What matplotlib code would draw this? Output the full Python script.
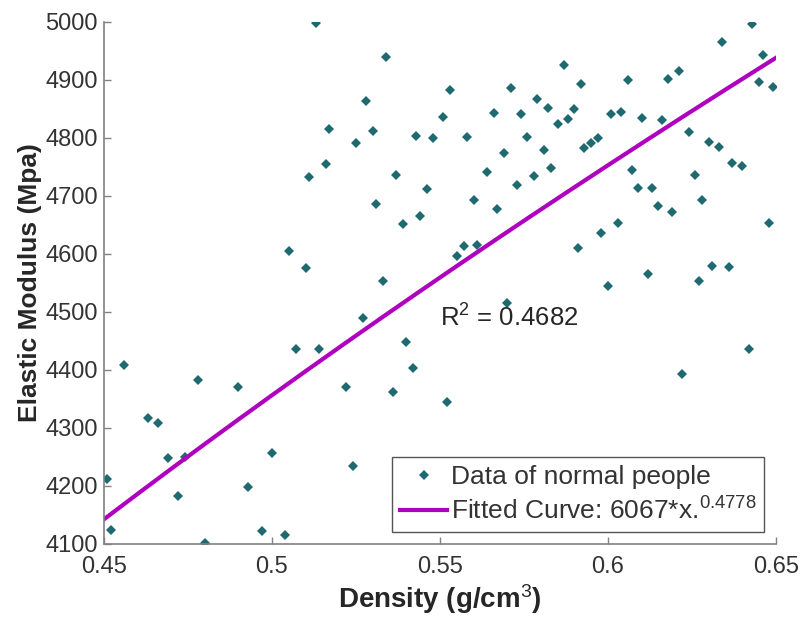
import numpy as np
import matplotlib
matplotlib.use("Agg")
import matplotlib.pyplot as plt

plt.rcParams['font.family'] = ['Liberation Sans', 'DejaVu Sans']
plt.rcParams['mathtext.fontset'] = 'custom'
plt.rcParams['mathtext.rm'] = 'Liberation Sans'
plt.rcParams['mathtext.it'] = 'Liberation Sans'
plt.rcParams['mathtext.bf'] = 'Liberation Sans:bold'

# density (g/cm3) and elastic modulus (Mpa)
density = [
    0.513, 0.534, 0.553, 0.528, 0.551, 0.517, 0.530, 0.525, 0.543, 0.548,
    0.516, 0.511, 0.537, 0.546, 0.531, 0.544, 0.539, 0.505, 0.510, 0.533,
    0.587, 0.592, 0.571, 0.579, 0.582, 0.590, 0.566, 0.574, 0.588, 0.585,
    0.601, 0.558, 0.576, 0.569, 0.581, 0.593, 0.595, 0.597, 0.564, 0.583,
    0.578, 0.573, 0.560, 0.567, 0.603, 0.598, 0.557, 0.561, 0.555, 0.591,
    0.643, 0.634, 0.646, 0.606, 0.618, 0.621, 0.645, 0.649, 0.604, 0.610,
    0.616, 0.624, 0.630, 0.633, 0.637, 0.640, 0.607, 0.626, 0.609, 0.613,
    0.615, 0.619, 0.628, 0.648, 0.612, 0.631, 0.636, 0.627, 0.600, 0.642,
    0.622, 0.570, 0.552, 0.527, 0.507, 0.514, 0.540, 0.542, 0.522, 0.536,
    0.500, 0.524, 0.504, 0.456, 0.478, 0.490, 0.463, 0.466, 0.469, 0.474,
    0.451, 0.493, 0.472, 0.452, 0.497, 0.480,
]
modulus = [
    4999, 4940, 4883, 4864, 4837, 4816, 4812, 4792, 4803, 4800,
    4755, 4732, 4736, 4712, 4686, 4665, 4652, 4606, 4576, 4553,
    4926, 4893, 4886, 4868, 4851, 4850, 4843, 4842, 4833, 4825,
    4842, 4802, 4802, 4775, 4779, 4783, 4791, 4800, 4741, 4749,
    4734, 4719, 4693, 4678, 4654, 4636, 4613, 4615, 4597, 4611,
    4997, 4965, 4943, 4900, 4902, 4916, 4897, 4888, 4845, 4834,
    4831, 4810, 4793, 4784, 4757, 4751, 4745, 4736, 4713, 4714,
    4683, 4672, 4693, 4654, 4566, 4579, 4577, 4554, 4544, 4437,
    4393, 4516, 4345, 4490, 4436, 4437, 4449, 4404, 4370, 4362,
    4257, 4234, 4116, 4409, 4382, 4370, 4317, 4308, 4249, 4250,
    4212, 4198, 4182, 4124, 4122, 4102,
]

# fitted power curve shown in the legend: a * x.^b
fit_a = 6067
fit_b = 0.4778
r_squared = "0.4682"

x_ticks = [0.45, 0.5, 0.55, 0.6, 0.65]
x_tick_labels = ["0.45", "0.5", "0.55", "0.6", "0.65"]
y_ticks = [4100, 4200, 4300, 4400, 4500, 4600, 4700, 4800, 4900, 5000]

fig = plt.figure(figsize=(8.04, 6.22), dpi=100)
ax = fig.add_axes([104 / 804, 78 / 622, 672 / 804, 522 / 622])

ax.plot(density, modulus, linestyle='none', marker='D', markersize=4.6,
        color='#1f6a70', markeredgewidth=0, label='Data of normal people')

xf = np.linspace(0.45, 0.65, 200)
ax.plot(xf, fit_a * xf ** fit_b, color='#b000bf', linewidth=3,
        label='Fitted Curve: 6067*x.$^{0.4778}$')

ax.text(0.55, 4490, 'R$^2$ = ' + r_squared, fontsize=18.5, color='#262626',
        va='center', ha='left')

ax.set_xlim(0.45, 0.65)
ax.set_ylim(4100, 5000)
ax.set_xticks(x_ticks)
ax.set_xticklabels(x_tick_labels)
ax.set_yticks(y_ticks)

for side in ['top', 'right']:
    ax.spines[side].set_visible(False)
for side in ['left', 'bottom']:
    ax.spines[side].set_color('#808080')
    ax.spines[side].set_linewidth(1.2)
ax.tick_params(direction='in', length=5, width=1, color='#808080',
               labelsize=17, labelcolor='#333333')
ax.tick_params(axis='x', pad=8.5)
ax.tick_params(axis='y', pad=4.5)

ax.set_xlabel('Density (g/cm$^3$)', fontsize=20, fontweight='bold',
              color='#262626', labelpad=3)
ax.set_ylabel('Elastic Modulus (Mpa)', fontsize=19, fontweight='bold',
              color='#262626', labelpad=2)

leg = ax.legend(loc='lower right', fontsize=19, frameon=True, fancybox=False,
                edgecolor='#555555', framealpha=1, borderpad=0.3,
                handlelength=1.8, handletextpad=0.12, labelspacing=0.3,
                borderaxespad=0.45)
leg.get_frame().set_linewidth(1)
for t in leg.get_texts():
    t.set_color('#333333')

fig.savefig('out.png', dpi=100, facecolor='white')
